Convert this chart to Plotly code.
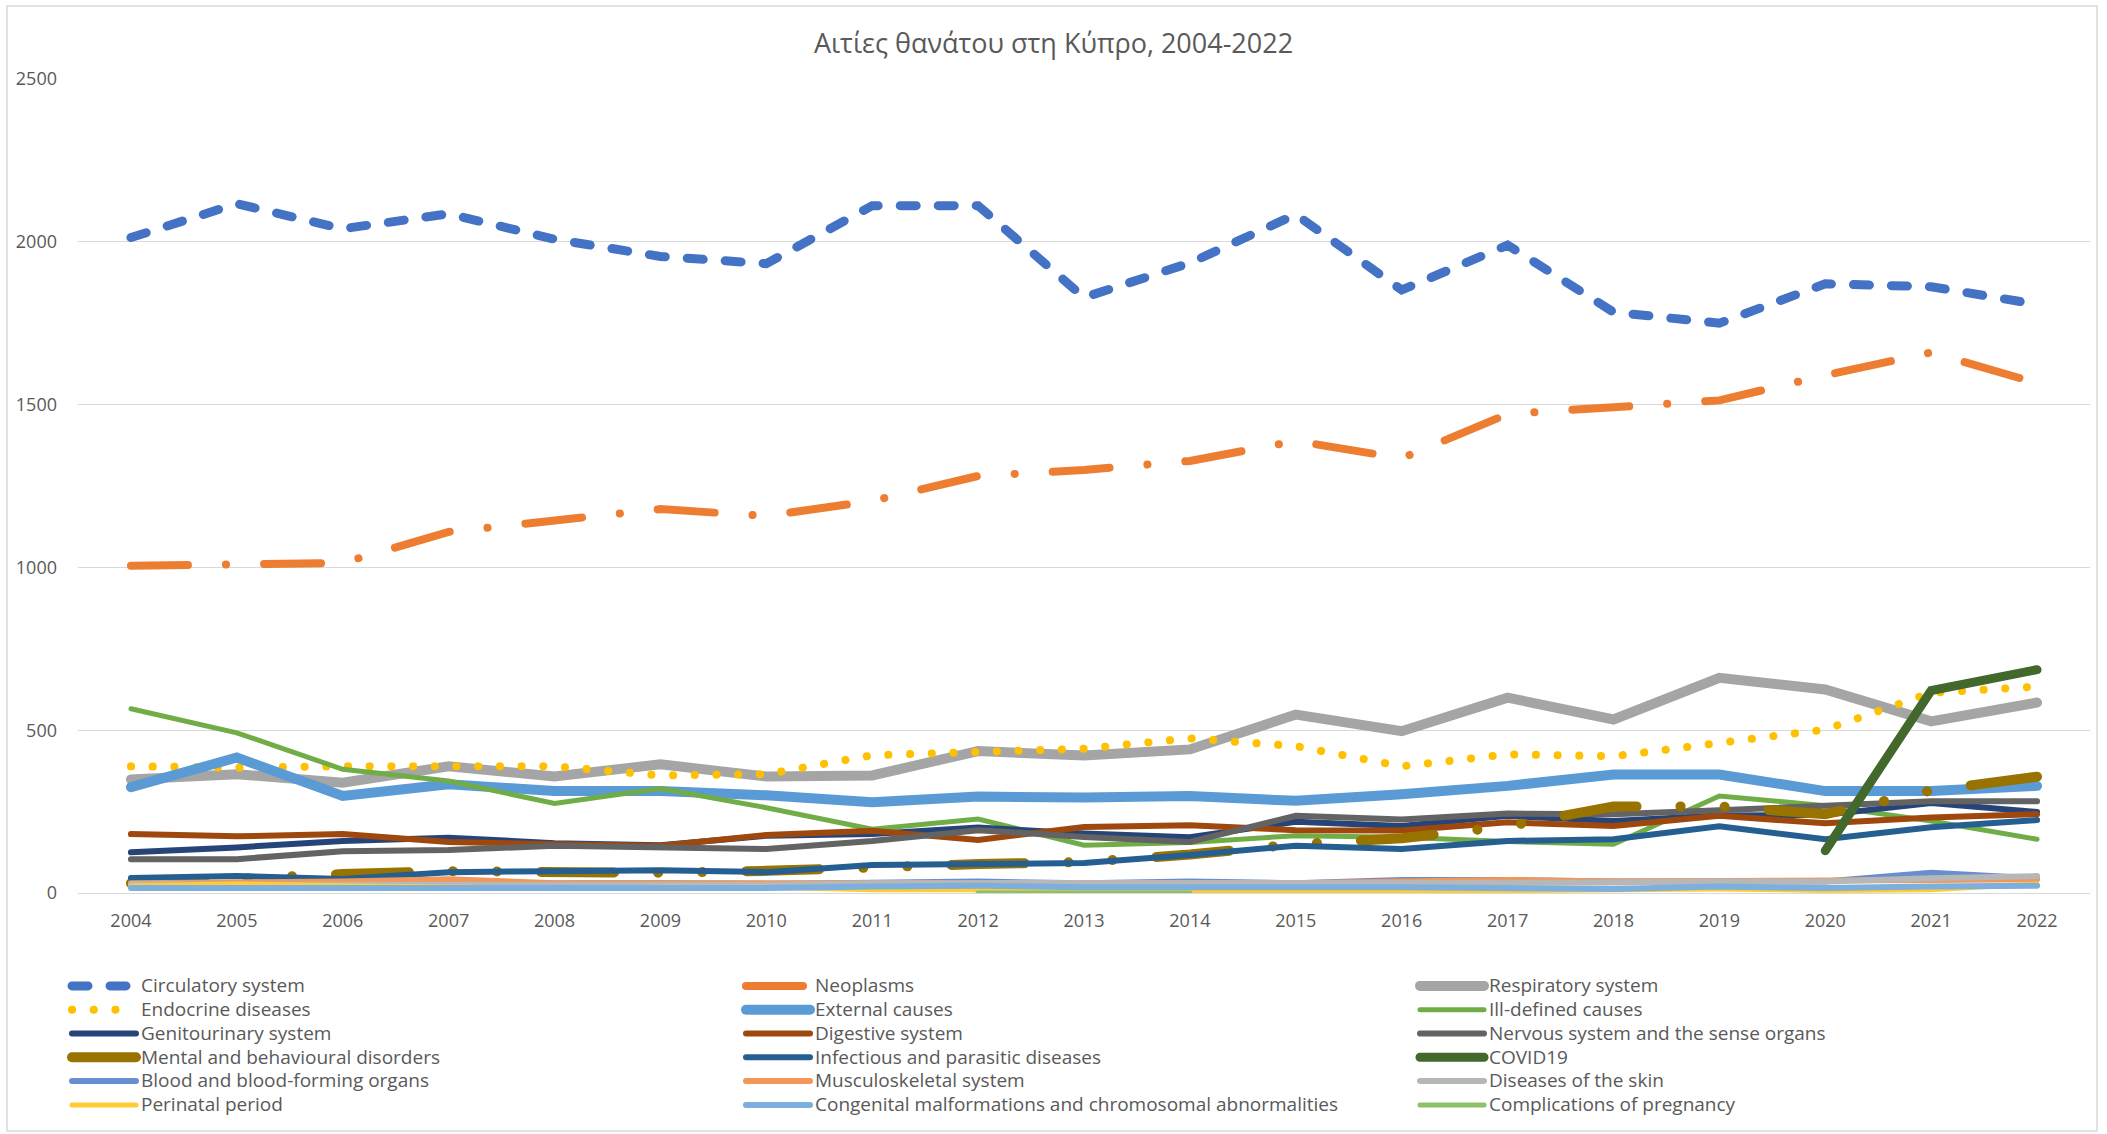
import plotly.graph_objects as go

years = list(range(2004, 2023))
year_labels = [str(y) for y in years]

circulatory = [2013, 2117, 2040, 2086, 2008, 1955, 1933, 2111, 2111, 1829, 1935, 2084, 1852, 1990, 1784, 1750, 1871, 1862, 1808]
neoplasms = [1005, 1011, 1014, 1109, 1146, 1179, 1158, 1204, 1281, 1299, 1327, 1388, 1335, 1471, 1492, 1513, 1590, 1660, 1566]
respiratory = [349, 365, 339, 389, 358, 395, 358, 361, 436, 422, 441, 548, 497, 600, 533, 661, 625, 527, 585]
endocrine = [389, 385, 389, 388, 389, 361, 365, 423, 436, 443, 475, 451, 389, 426, 420, 462, 502, 615, 634]
external = [325, 416, 298, 334, 313, 313, 300, 279, 296, 293, 298, 283, 303, 329, 364, 364, 313, 313, 329]
ill_defined = [566, 492, 380, 344, 275, 321, 262, 196, 227, 147, 155, 176, 171, 158, 150, 298, 268, 221, 165]
genitourinary = [125, 140, 160, 170, 153, 147, 176, 181, 201, 183, 171, 219, 206, 237, 221, 238, 240, 276, 249]
digestive = [181, 174, 181, 157, 150, 145, 178, 191, 163, 203, 208, 193, 192, 217, 206, 237, 214, 232, 242]
nervous = [104, 104, 128, 132, 145, 140, 135, 160, 193, 172, 157, 237, 226, 244, 242, 254, 269, 282, 282]
mental = [30, 45, 58, 67, 62, 62, 68, 82, 89, 95, 118, 150, 168, 205, 266, 266, 242, 315, 357]
infectious = [46, 52, 43, 64, 67, 70, 64, 86, 89, 92, 117, 145, 135, 160, 165, 205, 165, 202, 224]
covid19 = [None] * 16 + [130, 622, 686]
blood = [25, 30, 28, 30, 28, 30, 28, 32, 35, 30, 35, 30, 40, 40, 35, 35, 35, 62, 45]
musculoskeletal = [30, 32, 35, 42, 30, 30, 28, 30, 30, 25, 30, 30, 35, 40, 35, 38, 40, 40, 42]
skin = [28, 25, 25, 25, 25, 22, 25, 30, 30, 28, 30, 28, 30, 30, 32, 35, 35, 45, 52]
perinatal = [22, 28, 22, 20, 15, 18, 18, 10, 10, 6, 3, 3, 5, 8, 10, 12, 8, 10, 28]
congenital = [15, 15, 18, 18, 15, 18, 15, 20, 22, 18, 20, 18, 18, 15, 12, 20, 15, 20, 22]
pregnancy = [None] * 8 + [0, 0, 0] + [None] * 8

series_names = [
    "Circulatory system", "Neoplasms", "Respiratory system",
    "Endocrine diseases", "External causes", "Ill-defined causes",
    "Genitourinary system", "Digestive system", "Nervous system and the sense organs",
    "Mental and behavioural disorders", "Infectious and parasitic diseases", "COVID19",
    "Blood and blood-forming organs", "Musculoskeletal system", "Diseases of the skin",
    "Perinatal period", "Congenital malformations and chromosomal abnormalities", "Complications of pregnancy",
]
series_values = [
    circulatory, neoplasms, respiratory,
    endocrine, external, ill_defined,
    genitourinary, digestive, nervous,
    mental, infectious, covid19,
    blood, musculoskeletal, skin,
    perinatal, congenital, pregnancy,
]
series_colors = [
    "#4472C4", "#ED7D31", "#A5A5A5",
    "#FFC000", "#5B9BD5", "#70AD47",
    "#264478", "#9E480E", "#636363",
    "#997300", "#255E91", "#43682B",
    "#698ED0", "#F1975A", "#B7B7B7",
    "#FFCD33", "#7CAFDD", "#8CC168",
]
series_widths = [9, 8, 10, 8, 10, 5, 6, 6, 6, 10, 6, 9, 6, 6, 6, 5, 6, 5]
series_dash = [
    "16px,22px", "57px,38px,0.1px,38px", "solid",
    "0.1px,21.6px", "solid", "solid",
    "solid", "solid", "solid",
    "73px,44px,0.1px,44px,0.1px,44px", "solid", "solid",
    "solid", "solid", "solid",
    "solid", "solid", "solid",
]

FONT = "'Open Sans', 'Noto Sans', 'Liberation Sans', sans-serif"
LEGEND_TEXT = '<span style="font-size:19px">{}</span>'

fig = go.Figure()
for name, vals, col, w, d in zip(series_names, series_values, series_colors, series_widths, series_dash):
    fig.add_trace(go.Scatter(
        x=years, y=vals, name=LEGEND_TEXT.format(name), mode="lines",
        line=dict(color=col, width=w, dash=d),
        hovertemplate=name + ": %{y}<extra>%{x}</extra>",
    ))

W, H = 2107, 1134
ml, mr, mt, mb = 78, 17, 79, 241
pw, ph = W - ml - mr, H - mt - mb

def px_x(p):
    return (p - ml) / pw

def px_y(p):
    return (H - mb - p) / ph

fig.add_shape(type="rect", xref="paper", yref="paper",
              x0=px_x(7), x1=px_x(2097), y0=px_y(1131), y1=px_y(6),
              line=dict(color="#D9D9D9", width=1.5), fillcolor="rgba(0,0,0,0)", layer="below")

fig.update_layout(
    width=W, height=H,
    margin=dict(l=ml, r=mr, t=mt, b=mb, autoexpand=False),
    paper_bgcolor="white", plot_bgcolor="white",
    font=dict(family=FONT, size=18, color="#595959"),
    title=dict(text="Αιτίες θανάτου στη Κύπρο, 2004-2022", x=0.5, xref="container",
               y=1 - 44 / H, yref="container", yanchor="middle", xanchor="center",
               font=dict(family=FONT, size=27, color="#595959")),
    xaxis=dict(range=[2003.5, 2022.5], tickmode="array", tickvals=years, ticktext=year_labels,
               showgrid=False, zeroline=False, showline=False, ticks="", ticklabelstandoff=15,
               tickfont=dict(size=18, color="#595959"), fixedrange=True),
    yaxis=dict(range=[0, 2500], dtick=500, tick0=0, showgrid=True, gridcolor="#D9D9D9", gridwidth=1.3,
               zeroline=True, zerolinecolor="#D9D9D9", zerolinewidth=1.3, showline=False, ticks="",
               ticklabelstandoff=20, tickfont=dict(size=18, color="#595959"), fixedrange=True),
    showlegend=True,
    legend=dict(orientation="h", x=px_x(67), xanchor="left", y=px_y(969), yanchor="top",
                entrywidth=595, entrywidthmode="pixels", itemwidth=64, traceorder="normal",
                font=dict(family=FONT, size=16, color="#595959"), bgcolor="rgba(0,0,0,0)",
                tracegroupgap=0),
)

post = """
document.body.style.margin='0';
document.body.style.overflow='hidden';
var gd=document.getElementById('{plot_id}');
function rc(){
  gd.querySelectorAll('path.js-line').forEach(function(p){p.style.strokeLinecap='round';});
  gd.querySelectorAll('.legendlines path').forEach(function(p){p.style.strokeLinecap='round';});
}
rc();
if(gd.on){gd.on('plotly_afterplot', rc);}
setTimeout(rc, 200);
"""

fig.write_html("out.html", post_script=post, config={"displayModeBar": False})
